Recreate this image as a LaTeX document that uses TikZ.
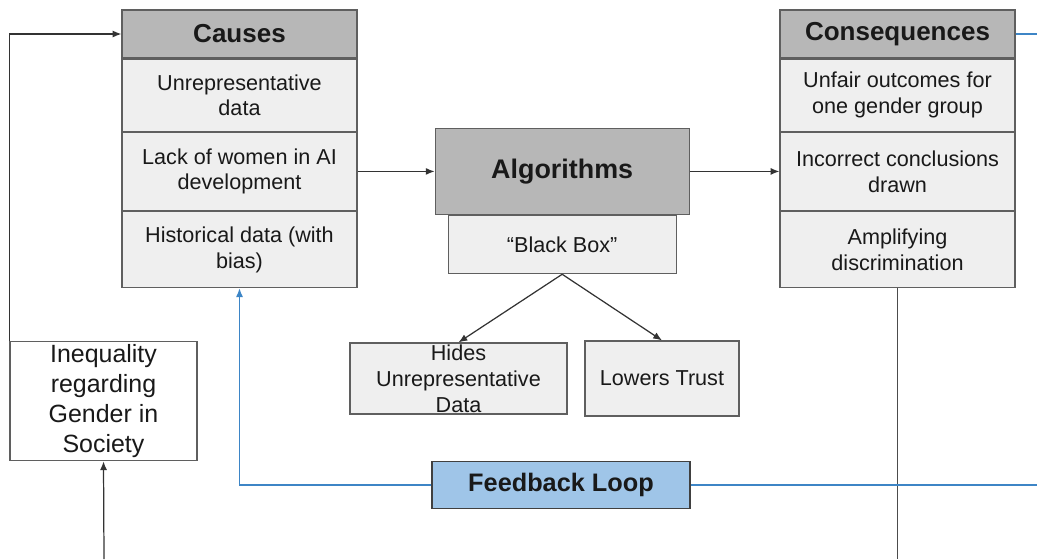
\documentclass[tikz,border=0pt]{standalone}
\usepackage{fontspec}
\setmainfont{Liberation Sans}
\usepackage{xcolor}
\usetikzlibrary{arrows.meta,positioning}
\definecolor{hdrgray}{HTML}{B7B7B7}
\definecolor{boxgray}{HTML}{EFEFEF}
\definecolor{edgegray}{HTML}{5F5F5F}
\definecolor{loopblue}{HTML}{9FC5E8}
\definecolor{lineblue}{HTML}{3D85C6}

\begin{document}
\begin{tikzpicture}[
  x=0.02cm,y=-0.02cm,
  node distance=0pt,
  base/.style={draw=edgegray,line width=0.7pt,align=center,inner sep=2pt,text=black!90,
    font=\fontsize{12.3}{14.7}\selectfont},
  head/.style={base,fill=hdrgray,minimum width=4.7cm,minimum height=0.96cm,
    font=\fontsize{14.8}{17}\selectfont\bfseries},
  item/.style={base,fill=boxgray,minimum width=4.7cm,minimum height=1.52cm},
  arrow/.style={-{Latex[length=5pt,width=4pt]},line width=0.7pt,draw=black!80},
  link/.style={line width=0.7pt,draw=black!70},
  blue link/.style={line width=0.7pt,draw=lineblue}
]
\useasboundingbox (0,0) rectangle (1037,559);

% causes column
\node[head] (causes) at (239.5,34) {Causes};
\node[item,minimum height=1.44cm,below=of causes] (cause1) {Unrepresentative\\data};
\node[item,minimum height=1.56cm,below=of cause1] (cause2) {Lack of women in AI\\development};
\node[item,below=of cause2] (cause3) {Historical data (with\\bias)};

% consequences column
\node[head] (cons) at (897.5,34) {Consequences};
\node[item,minimum height=1.44cm,below=of cons] (cons1) {Unfair outcomes for\\one gender group};
\node[item,minimum height=1.56cm,below=of cons1] (cons2) {Incorrect conclusions\\drawn};
\node[item,below=of cons2] (cons3) {Amplifying\\discrimination};

% algorithms
\node[head,minimum width=5.08cm,minimum height=1.72cm,right=1.54cm of cause2,
  font=\fontsize{15.3}{17}\selectfont\bfseries] (alg) {Algorithms};
\node[item,minimum width=4.56cm,minimum height=1.16cm,below=of alg] (bb) {``Black Box''};
\node[item,minimum width=4.34cm,minimum height=1.42cm,inner ysep=0pt] (hides) at (458.5,378.5)
  {Hides\\Unrepresentative\\Data};
\node[item,minimum width=3.08cm,minimum height=1.5cm] (trust) at (662,378.5) {Lowers Trust};

% society and loop
\node[base,fill=white,minimum width=3.74cm,minimum height=2.36cm,
  font=\fontsize{14.2}{16.9}\selectfont] (ineq) at (103.5,401)
  {Inequality\\regarding\\Gender in\\Society};
\node[base,fill=loopblue,draw=black!75,minimum width=5.16cm,minimum height=0.94cm,
  font=\fontsize{14.4}{17}\selectfont\bfseries] (loop) at (561,485) {Feedback Loop};

\coordinate (bottomin) at (104,559);
\coordinate (bottomout) at (897.5,559);
\coordinate (edgetop) at (1037,34);
\coordinate (edgeloop) at (1037,485);

\draw[arrow] (ineq.north west) |- (causes.west);
\draw[arrow] (bottomin) -- (ineq.south);
\draw[arrow] (cause2.east) -- (alg.west);
\draw[arrow] (alg.east) -- (cons2.west);
\draw[arrow] (bb.south) -- (hides.north);
\draw[arrow] (bb.south) -- (trust.north);
\draw[link] (cons3.south) -- (bottomout);
\draw[blue link] (cons.east) -- (edgetop);
\draw[blue link] (loop.east) -- (edgeloop);
\draw[blue link,-{Latex[length=5pt,width=4pt]}] (loop.west) -| (cause3.south);
\end{tikzpicture}
\end{document}
